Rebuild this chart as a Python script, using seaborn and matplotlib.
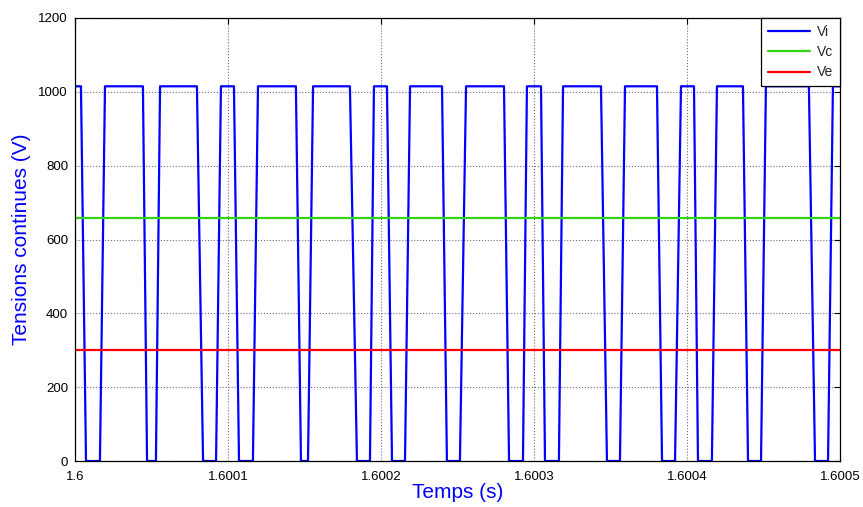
import matplotlib
matplotlib.use("Agg")
import matplotlib.pyplot as plt
import seaborn as sns
import numpy as np

# Inverter input voltage Vi: corner times (microseconds after t = 1.6 s) and levels (V)
vi_t_us = [0, 3.9, 7.2, 16.3, 19.6, 44.4, 47.1, 52.9, 55.6, 79.7, 83.7, 92.2,
           95.4, 103.9, 107.2, 116.3, 119.6, 144.4, 147.7, 152.3, 155.6, 179.7,
           184.3, 192.8, 195.4, 203.9, 207.2, 215.7, 219.0, 239.9, 243.1, 251.6,
           255.6, 280.4, 283.7, 292.8, 295.4, 304.6, 307.2, 316.3, 319.0, 343.8,
           347.7, 356.2, 359.5, 380.4, 383.7, 392.2, 396.1, 404.6, 407.2, 416.3,
           419.6, 436.6, 439.9, 448.4, 451.6, 479.7, 483.7, 492.2, 495.4, 500.0]
vi_v = [1015, 1015, 0, 0, 1015, 1015, 0, 0, 1015, 1015, 0, 0,
        1015, 1015, 0, 0, 1015, 1015, 0, 0, 1015, 1015,
        0, 0, 1015, 1015, 0, 0, 1015, 1015, 0, 0,
        1015, 1015, 0, 0, 1015, 1015, 0, 0, 1015, 1015,
        0, 0, 1015, 1015, 0, 0, 1015, 1015, 0, 0,
        1015, 1015, 0, 0, 1015, 1015, 0, 0, 1015, 1015]

# Capacitor voltage Vc and source voltage Ve (constant over the window)
vc_level = 657.5
ve_level = 300.0

t0 = 1.6
t_window_us = [0.0, 500.0]
x_ticks = [1.6, 1.6001, 1.6002, 1.6003, 1.6004, 1.6005]
x_ticklabels = ["1.6", "1.6001", "1.6002", "1.6003", "1.6004", "1.6005"]
y_ticks = [0, 200, 400, 600, 800, 1000, 1200]

sns.set_style("white")
plt.rcParams["font.family"] = ["Liberation Sans", "DejaVu Sans"]

fig = plt.figure(figsize=(8.63, 5.07), dpi=100)
ax = fig.add_axes([0.0869, 0.0907, 0.8864, 0.8738])

t_vi = [t0 + u * 1e-6 for u in vi_t_us]
t_flat = [t0 + u * 1e-6 for u in t_window_us]

sns.lineplot(x=t_vi, y=vi_v, ax=ax, color="#0000ff", linewidth=1.6,
             sort=False, estimator=None, label="Vi")
sns.lineplot(x=t_flat, y=[vc_level, vc_level], ax=ax, color="#33d411",
             linewidth=1.6, sort=False, estimator=None, label="Vc")
sns.lineplot(x=t_flat, y=[ve_level, ve_level], ax=ax, color="#ff0000",
             linewidth=1.6, sort=False, estimator=None, label="Ve")

ax.set_xlim(x_ticks[0], x_ticks[-1])
ax.set_ylim(y_ticks[0], y_ticks[-1])
ax.set_xticks(x_ticks)
ax.set_xticklabels(x_ticklabels)
ax.set_yticks(y_ticks)

ax.grid(True, linestyle=":", color="#707070", linewidth=0.8)
ax.tick_params(direction="in", length=4, width=0.8, top=True, right=True,
               labelsize=9.5, colors="black")
ax.tick_params(axis="x", pad=7.5)
ax.tick_params(axis="y", pad=5)
for s in ax.spines.values():
    s.set_visible(True)
    s.set_color("black")
    s.set_linewidth(0.9)

ax.set_xlabel("Temps (s)", color="#0000ff", fontsize=15, labelpad=0)
ax.set_ylabel("Tensions continues (V)", color="#0000ff", fontsize=15, labelpad=5)

leg = ax.legend(loc="upper right", borderaxespad=0.0, fontsize=10,
                handlelength=3.0, labelspacing=0.45, fancybox=False,
                framealpha=1, edgecolor="black", borderpad=0.5,
                handletextpad=0.5)
leg.get_frame().set_linewidth(0.9)

fig.savefig("out.png", dpi=100)
